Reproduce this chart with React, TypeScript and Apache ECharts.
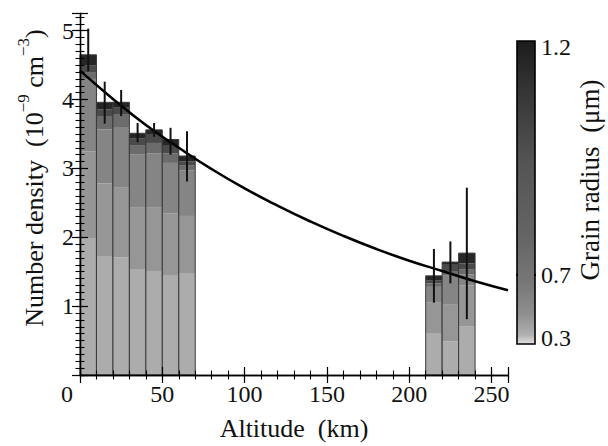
import React, { useEffect, useRef } from 'react';
import * as echarts from 'echarts';

// Altitude bin centres (km) and bin width
const altitudes = [5, 15, 25, 35, 45, 55, 65, 215, 225, 235];
const binWidthKm = 10;

// Number density contribution (10^-9 cm^-3) per grain-radius bin, smallest grains first
const bin1 = [1.99, 1.73, 1.71, 1.53, 1.51, 1.44, 1.48, 0.61, 0.49, 0.71];
const bin2 = [1.26, 1.05, 1.01, 0.9, 0.92, 0.91, 0.83, 0.44, 0.53, 0.59];
const bin3 = [1.05, 0.79, 0.88, 0.77, 0.79, 0.73, 0.66, 0.23, 0.43, 0.16];
const bin4 = [0.09, 0.18, 0.19, 0.13, 0.15, 0.14, 0.07, 0.05, 0.06, 0.07];
const bin5 = [0.11, 0.11, 0.09, 0.11, 0.13, 0.12, 0.06, 0.04, 0.09, 0.09];
const bin6 = [0.15, 0.1, 0.08, 0.07, 0.06, 0.08, 0.08, 0.07, 0.04, 0.15];
const bins = [bin1, bin2, bin3, bin4, bin5, bin6];
const binColors = ['#acacac', '#969696', '#858585', '#6c6c6c', '#4a4a4a', '#262626'];

// Error bars
const errLow = [4.41, 3.65, 3.76, 3.38, 3.46, 3.2, 2.81, 1.05, 1.33, 0.81];
const errHigh = [5.03, 4.26, 4.14, 3.66, 3.66, 3.59, 3.54, 1.83, 1.94, 2.72];

// Fitted curve
const fitAlt = [0, 20, 40, 60, 80, 100, 120, 140, 160, 180, 200, 220, 240, 260];
const fitDensity = [4.42, 4.01, 3.63, 3.3, 2.99, 2.71, 2.46, 2.23, 2.02, 1.83, 1.66, 1.51, 1.36, 1.23];

// Colour bar tick labels
const cbLabels = ['1.2', '0.7', '0.3'];

const FONT = '"Liberation Serif", "Times New Roman", serif';

export default function App() {
  const ref = useRef<HTMLDivElement>(null);
  useEffect(() => {
    if (!ref.current) return;
    const chart = echarts.init(ref.current, null, { renderer: 'svg' });
    const half = binWidthKm / 2;
    const barData = altitudes.map((a, j) => [a, ...bins.map((b) => b[j])]);
    const errData = altitudes.map((a, j) => [a, errLow[j], errHigh[j]]);
    const fitData = fitAlt.map((a, i) => [a, fitDensity[i]]);

    const axisLine = { show: true, lineStyle: { color: '#000', width: 1.3 } };
    const majorX = (pos: string, labels: boolean) => ({
      type: 'value', min: 0, max: 260, interval: 50, position: pos, z: 10,
      axisLine, splitLine: { show: false },
      axisTick: { show: true, inside: true, length: 8, lineStyle: { color: '#000', width: 1.2 } },
      axisLabel: labels
        ? {
            show: true, fontSize: 24, fontFamily: FONT, color: '#111', margin: 7,
            formatter: (v: number) => (v === 0 ? '{z|0}' : v > 250 ? '' : String(v)),
            rich: { z: { fontSize: 24, fontFamily: FONT, color: '#111', padding: [0, 26, 0, 0] } },
          }
        : { show: false },
      name: labels ? 'Altitude  (km)' : '',
      nameLocation: 'middle', nameGap: 40,
      nameTextStyle: { fontSize: 26, fontFamily: FONT, color: '#111' },
    });
    const minorX = (pos: string) => ({
      type: 'value', min: 0, max: 260, interval: 10, position: pos, z: 10,
      axisLine: { show: false }, splitLine: { show: false }, axisLabel: { show: false },
      axisTick: { show: true, inside: true, length: 4.5, lineStyle: { color: '#000', width: 1.1 } },
    });
    const majorY = (pos: string, labels: boolean) => ({
      type: 'value', min: 0, max: 5.25, interval: 1, position: pos, z: 10,
      axisLine, splitLine: { show: false },
      axisTick: { show: true, inside: true, length: 8, lineStyle: { color: '#000', width: 1.2 } },
      axisLabel: labels
        ? {
            show: true, fontSize: 24, fontFamily: FONT, color: '#111', margin: 6, padding: [8, 0, 0, 0],
            formatter: (v: number) => (v > 0 && v <= 5 && Math.abs(v - Math.round(v)) < 1e-6 ? String(v) : ''),
          }
        : { show: false },
    });
    const minorY = (pos: string) => ({
      type: 'value', min: 0, max: 5.25, interval: 0.1, position: pos, z: 10,
      axisLine: { show: false }, splitLine: { show: false }, axisLabel: { show: false },
      axisTick: { show: true, inside: true, length: 4.5, lineStyle: { color: '#000', width: 1.1 } },
    });

    const cbX = 517, cbY = 41, cbW = 18, cbH = 303;
    const cbLabelY = [47, 275, 338];

    chart.setOption({
      animation: false,
      backgroundColor: '#fff',
      grid: { left: 80, right: 100, top: 13.5, bottom: 70.3, containLabel: false },
      xAxis: [majorX('bottom', true), minorX('bottom'), majorX('top', false), minorX('top')],
      yAxis: [majorY('left', true), minorY('left'), majorY('right', false), minorY('right')],
      series: [
        {
          type: 'custom',
          xAxisIndex: 0, yAxisIndex: 0,
          data: barData,
          encode: { x: 0, y: [1, 2, 3, 4, 5, 6] },
          z: 2,
          renderItem: (params: any, api: any) => {
            const x = api.value(0);
            const children: any[] = [];
            let cum = 0;
            for (let k = 0; k < bins.length; k++) {
              const v = api.value(k + 1);
              const p0 = api.coord([x - half, cum]);
              const p1 = api.coord([x + half, cum + v]);
              children.push({
                type: 'rect',
                shape: { x: p0[0], y: p1[1], width: p1[0] - p0[0], height: p0[1] - p1[1] },
                style: { fill: binColors[k] },
              });
              cum += v;
            }
            const b0 = api.coord([x - half, 0]);
            const b1 = api.coord([x + half, cum]);
            children.push({
              type: 'rect',
              shape: { x: b0[0], y: b1[1], width: b1[0] - b0[0], height: b0[1] - b1[1] },
              style: { fill: 'none', stroke: '#3a3a3a', lineWidth: 1 },
            });
            return { type: 'group', children };
          },
        },
        {
          type: 'line',
          xAxisIndex: 0, yAxisIndex: 0,
          data: fitData,
          smooth: true,
          showSymbol: false,
          symbol: 'none',
          lineStyle: { color: '#000', width: 2.6 },
          z: 4,
        },
        {
          type: 'custom',
          xAxisIndex: 0, yAxisIndex: 0,
          data: errData,
          encode: { x: 0, y: [1, 2] },
          z: 5,
          renderItem: (params: any, api: any) => {
            const x = api.value(0);
            const lo = api.coord([x, api.value(1)]);
            const hi = api.coord([x, api.value(2)]);
            return {
              type: 'line',
              shape: { x1: lo[0], y1: lo[1], x2: hi[0], y2: hi[1] },
              style: { stroke: '#111', lineWidth: 2 },
            };
          },
        },
      ],
      graphic: [
        {
          type: 'text',
          x: 31,
          y: 178,
          rotation: Math.PI / 2,
          style: {
            text: '{a|Number density  (10}{s|−9}{a| cm}{s|−3}{a|)}',
            align: 'center',
            verticalAlign: 'middle',
            rich: {
              a: { fontSize: 26, fontFamily: FONT, fill: '#111', lineHeight: 32, verticalAlign: 'bottom' },
              s: { fontSize: 17, fontFamily: FONT, fill: '#111', lineHeight: 14, verticalAlign: 'top' },
            },
          },
          z: 11,
        },
        {
          type: 'rect',
          shape: { x: cbX, y: cbY, width: cbW, height: cbH },
          style: {
            fill: new echarts.graphic.LinearGradient(0, 0, 0, 1, [
              { offset: 0, color: '#1c1c1c' },
              { offset: 0.15, color: '#333333' },
              { offset: 0.4, color: '#545454' },
              { offset: 0.65, color: '#656565' },
              { offset: 0.8, color: '#787878' },
              { offset: 0.9, color: '#8e8e8e' },
              { offset: 0.97, color: '#b0b0b0' },
              { offset: 1, color: '#e2e2e2' },
            ]),
            stroke: '#000',
            lineWidth: 1.6,
          },
          z: 10,
        },
        { type: 'rect', shape: { x: cbX - 1, y: cbLabelY[1] - 1, width: 2, height: 2 }, style: { fill: '#000' }, z: 11 },
        { type: 'rect', shape: { x: cbX + cbW - 1, y: cbLabelY[1] - 1, width: 2, height: 2 }, style: { fill: '#000' }, z: 11 },
        ...cbLabels.map((t, i) => ({
          type: 'text',
          x: 541,
          y: cbLabelY[i],
          style: { text: t, fontSize: 24, fontFamily: FONT, fill: '#111', align: 'left', verticalAlign: 'middle' },
          z: 11,
        })),
        {
          type: 'text',
          x: 590,
          y: 180,
          rotation: Math.PI / 2,
          style: { text: 'Grain radius  (μm)', fontSize: 27, fontFamily: FONT, fill: '#111', align: 'center', verticalAlign: 'middle' },
          z: 11,
        },
      ],
    });
    return () => chart.dispose();
  }, []);
  return <div ref={ref} style={{ position: 'fixed', left: 0, top: 0, width: 608, height: 446 }} />;
}
